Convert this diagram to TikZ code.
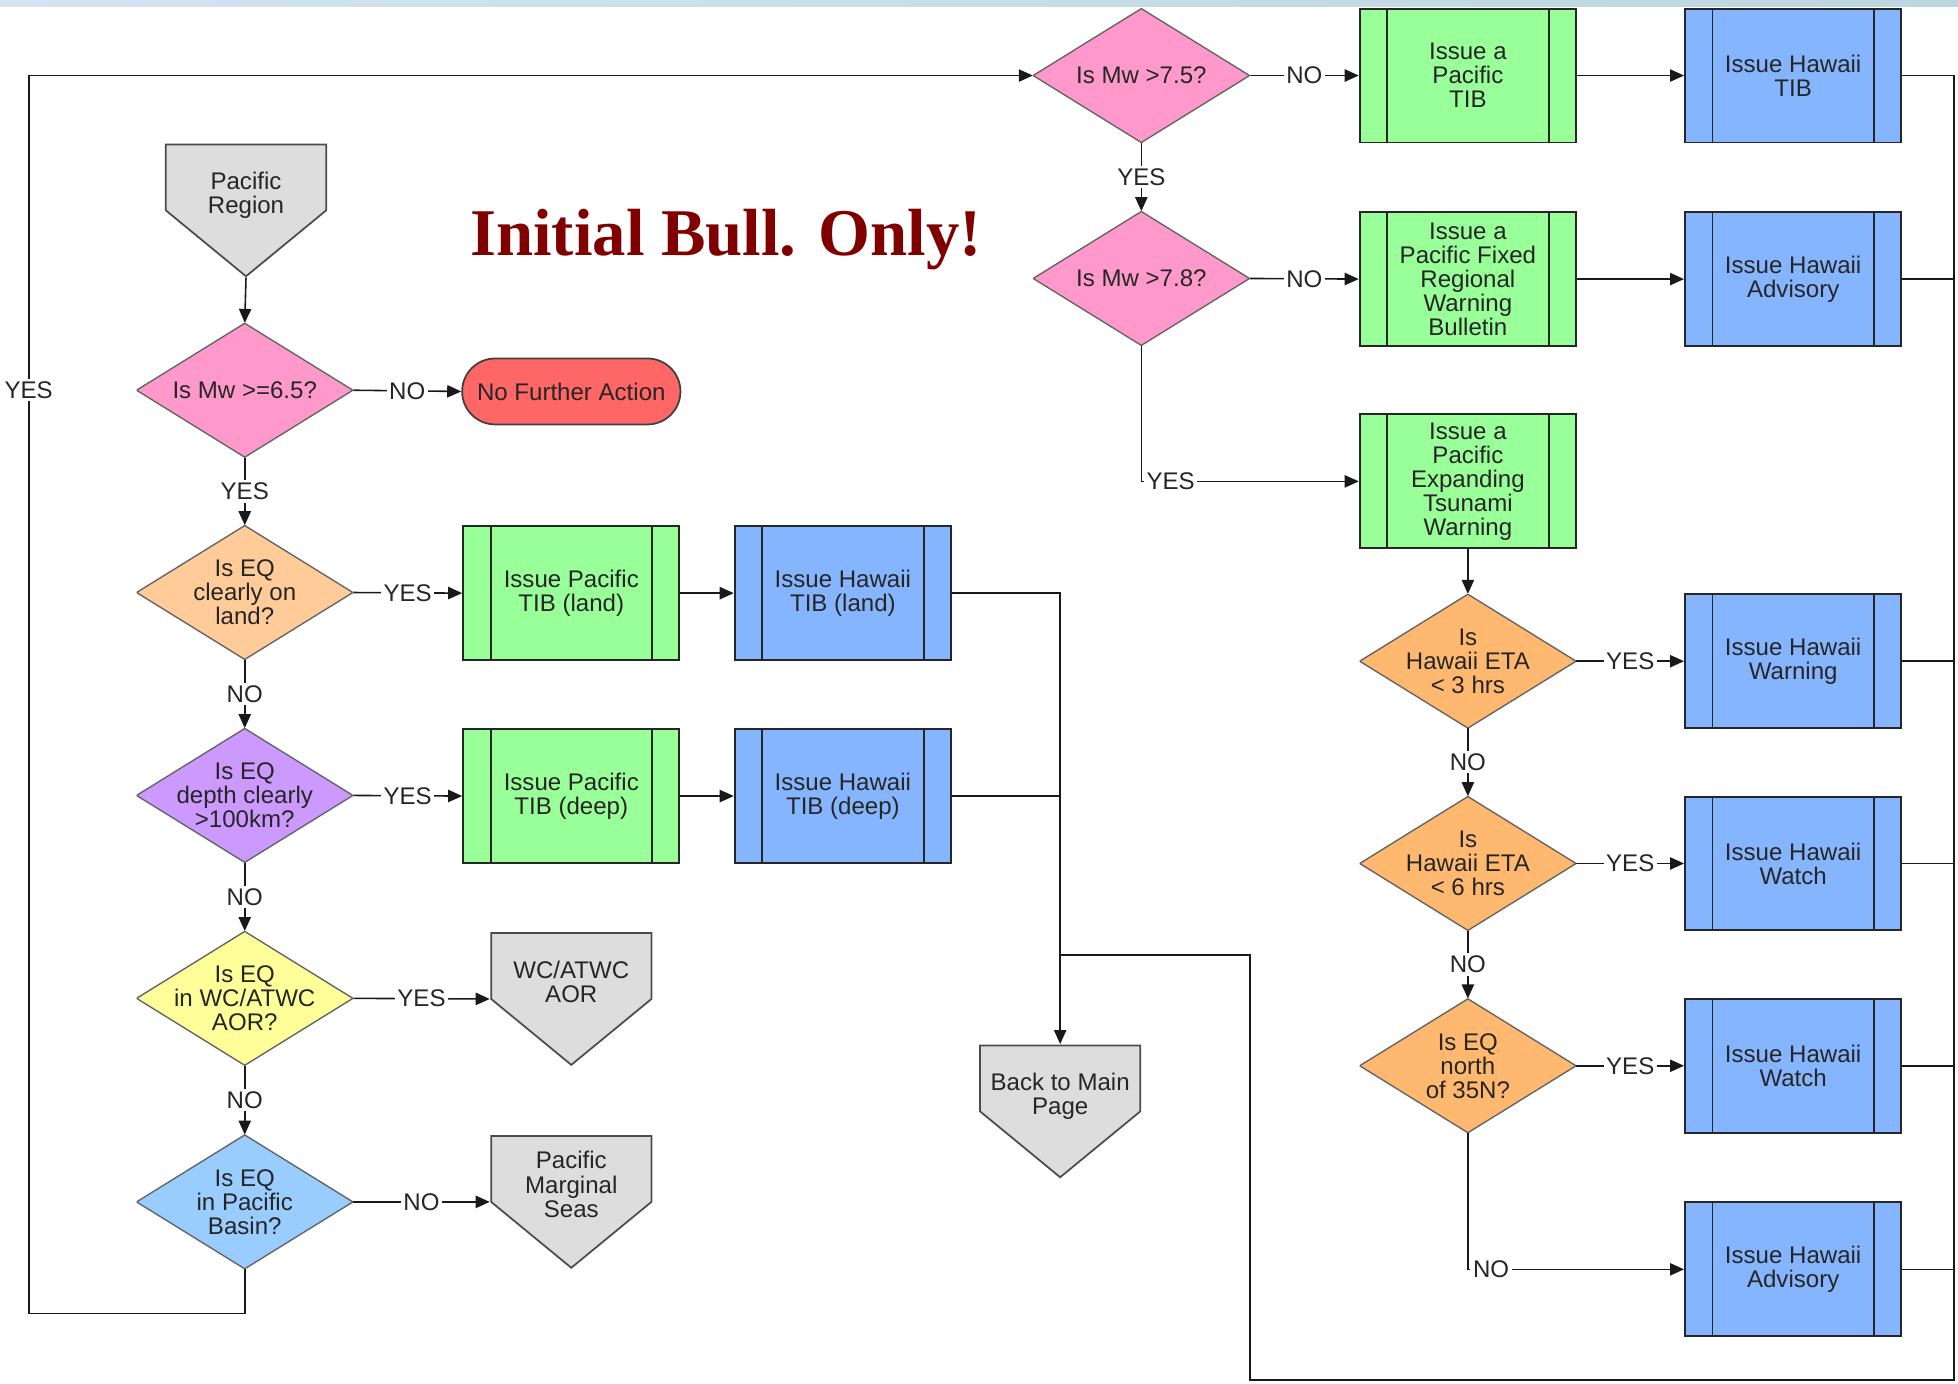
\documentclass[tikz,border=0pt]{standalone}
\usepackage{fontspec}
\setmainfont{Liberation Sans}
\newfontfamily\titlefont{Liberation Serif}
\usetikzlibrary{arrows.meta}

\definecolor{pinkq}{HTML}{FF99CC}
\definecolor{peachq}{HTML}{FFCC99}
\definecolor{lilacq}{HTML}{CC99FF}
\definecolor{lemonq}{HTML}{FFFF99}
\definecolor{skyq}{HTML}{99CCFF}
\definecolor{orangeq}{HTML}{FFB870}
\definecolor{pacgreen}{HTML}{99FF99}
\definecolor{hawblue}{HTML}{85B5FF}
\definecolor{stopred}{HTML}{FF6666}
\definecolor{offgray}{HTML}{DDDDDD}
\definecolor{titlered}{HTML}{800000}
\definecolor{bandl}{HTML}{D3E4F3}
\definecolor{bandr}{HTML}{BCD6DE}

% text of an off-page connector sits in its upper part
\newcommand\offtext[1]{\raisebox{0.28cm}[\height][\depth]{\begin{tabular}{@{}c@{}}#1\end{tabular}}}

\tikzset{
  every node/.style={font=\fontsize{13.7}{13.7}\selectfont, text=black!85},
  conn/.style={line width=.9pt, draw=black!90},
  lbl/.style={fill=white, inner sep=1.5pt},
  decision/.style={minimum width=4.33cm, minimum height=2.68cm, inner sep=0pt, align=center,
    path picture={\filldraw[fill=#1, draw=black!60, line width=.8pt]
      (path picture bounding box.north) -- (path picture bounding box.east)
      -- (path picture bounding box.south) -- (path picture bounding box.west) -- cycle;}},
  process/.style={draw=black!85, line width=1.1pt, fill=#1, minimum width=4.33cm,
    minimum height=2.68cm, inner sep=0pt, align=center,
    path picture={\draw[line width=1.1pt]
      ([xshift=.55cm]path picture bounding box.north west) -- ([xshift=.55cm]path picture bounding box.south west)
      ([xshift=-.55cm]path picture bounding box.north east) -- ([xshift=-.55cm]path picture bounding box.south east);}},
  offpage/.style={minimum width=3.25cm, minimum height=2.68cm, inner sep=0pt,
    path picture={\filldraw[fill=offgray, draw=black!70, line width=1pt]
      ([shift={(.6pt,-.6pt)}]path picture bounding box.north west)
      -- ([shift={(-.6pt,-.6pt)}]path picture bounding box.north east)
      -- ([xshift=-.6pt]path picture bounding box.east)
      -- ([yshift=.6pt]path picture bounding box.south)
      -- ([xshift=.6pt]path picture bounding box.west) -- cycle;}},
  stopnode/.style={draw=black!75, line width=1pt, fill=stopred, minimum width=4.37cm,
    minimum height=1.32cm, rounded corners=.66cm, inner sep=0pt}
}

\begin{document}
\begin{tikzpicture}[x=0.025cm, y=-0.025cm, >={Triangle[length=8pt,width=7pt]}]
\useasboundingbox (0,0) rectangle (1568,1108);
\shade[left color=bandl, right color=bandr] (0,0) rectangle (1568,5.5);

\node[font=\titlefont\bfseries\fontsize{38}{40}\selectfont, text=titlered, anchor=base] (title) at (581.5,205) {Initial Bull. Only!};

% left column
\node[offpage] (preg) at (197,168.5) {\offtext{Pacific\\Region}};
\node[decision=pinkq] (d1) at (196,312.5) {Is Mw >=6.5?};
\node[stopnode] (nfa) at (457.5,313.5) {No Further Action};
\node[decision=peachq] (d2) at (196,474.5) {Is EQ\\clearly on\\land?};
\node[process=pacgreen] (p1) at (457.5,475) {Issue Pacific\\TIB (land)};
\node[process=hawblue] (h7) at (675,475) {Issue Hawaii\\TIB (land)};
\node[decision=lilacq] (d3) at (196,637) {Is EQ\\depth clearly\\>100km?};
\node[process=pacgreen] (p2) at (457.5,637.5) {Issue Pacific\\TIB (deep)};
\node[process=hawblue] (h8) at (675,637.5) {Issue Hawaii\\TIB (deep)};
\node[decision=lemonq] (d4) at (196,799.5) {Is EQ\\in WC/ATWC\\AOR?};
\node[offpage] (wc) at (457.5,800) {\offtext{WC/ATWC\\AOR}};
\node[decision=skyq] (d5) at (196,962.5) {Is EQ\\in Pacific\\Basin?};
\node[offpage] (pms) at (457.5,962.5) {\offtext{Pacific\\Marginal\\Seas}};
\node[offpage] (back) at (849,890) {\offtext{Back to Main\\Page}};

% right columns
\node[decision=pinkq] (d6) at (914,60.5) {Is Mw >7.5?};
\node[process=pacgreen] (p3) at (1175.5,60.5) {Issue a\\Pacific\\TIB};
\node[process=hawblue] (h1) at (1436,60.5) {Issue Hawaii\\TIB};
\node[decision=pinkq] (d7) at (914,223) {Is Mw >7.8?};
\node[process=pacgreen] (p4) at (1175.5,223.5) {Issue a\\Pacific Fixed\\Regional\\Warning\\Bulletin};
\node[process=hawblue] (h2) at (1436,223.5) {Issue Hawaii\\Advisory};
\node[process=pacgreen] (p5) at (1175.5,385.5) {Issue a\\Pacific\\Expanding\\Tsunami\\Warning};
\node[decision=orangeq] (d8) at (1175.5,529.5) {Is\\Hawaii ETA\\< 3 hrs};
\node[process=hawblue] (h3) at (1436,529.5) {Issue Hawaii\\Warning};
\node[decision=orangeq] (d9) at (1175.5,691.5) {Is\\Hawaii ETA\\< 6 hrs};
\node[process=hawblue] (h4) at (1436,691.5) {Issue Hawaii\\Watch};
\node[decision=orangeq] (d10) at (1175.5,853.5) {Is EQ\\north\\of 35N?};
\node[process=hawblue] (h5) at (1436,853.5) {Issue Hawaii\\Watch};
\node[process=hawblue] (h6) at (1436,1016.5) {Issue Hawaii\\Advisory};

\coordinate (loopl) at (23,1052);
\coordinate (rbus) at (1565,1105);
\coordinate (mbus) at (1001,765);

% connectors
\draw[conn,->] (preg.south) -- (d1.north);
\draw[conn,->] (d1.east) -- node[lbl]{NO} (nfa.west);
\draw[conn,->] (d1.south) -- node[lbl]{YES} (d2.north);
\draw[conn,->] (d2.east) -- node[lbl]{YES} (p1.west);
\draw[conn,->] (p1.east) -- (h7.west);
\draw[conn,->] (d2.south) -- node[lbl]{NO} (d3.north);
\draw[conn,->] (d3.east) -- node[lbl]{YES} (p2.west);
\draw[conn,->] (p2.east) -- (h8.west);
\draw[conn,->] (d3.south) -- node[lbl]{NO} (d4.north);
\draw[conn,->] (d4.east) -- node[lbl]{YES} (wc.west);
\draw[conn,->] (d4.south) -- node[lbl]{NO} (d5.north);
\draw[conn,->] (d5.east) -- node[lbl]{NO} (pms.west);
\draw[conn,->] (d5.south) |- (loopl) |- node[lbl,pos=.373]{YES} (d6.west);

\draw[conn,->] (d6.east) -- node[lbl]{NO} (p3.west);
\draw[conn,->] (p3.east) -- (h1.west);
\draw[conn,->] (d6.south) -- node[lbl]{YES} (d7.north);
\draw[conn,->] (d7.east) -- node[lbl]{NO} (p4.west);
\draw[conn,->] (p4.east) -- (h2.west);
\draw[conn,->] (d7.south) |- node[lbl,pos=.5,anchor=west,xshift=1pt]{YES} (p5.west);
\draw[conn,->] (p5.south) -- (d8.north);
\draw[conn,->] (d8.east) -- node[lbl]{YES} (h3.west);
\draw[conn,->] (d8.south) -- node[lbl]{NO} (d9.north);
\draw[conn,->] (d9.east) -- node[lbl]{YES} (h4.west);
\draw[conn,->] (d9.south) -- node[lbl]{NO} (d10.north);
\draw[conn,->] (d10.east) -- node[lbl]{YES} (h5.west);
\draw[conn,->] (d10.south) |- node[lbl,pos=.5,anchor=west,xshift=1pt]{NO} (h6.west);

% everything returns to the main page
\draw[conn,->] (h7.east) -| (back.north);
\draw[conn] (h8.east) -- (h8.east -| back.north);
\draw[conn] (h1.east) -| (rbus) -| (mbus) -- (mbus -| back.north);
\foreach \n in {h2,h3,h4,h5,h6}
  \draw[conn] (\n.east) -- (\n.east -| rbus);
\end{tikzpicture}
\end{document}
